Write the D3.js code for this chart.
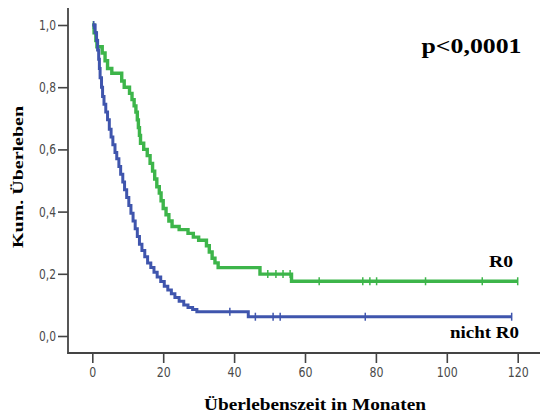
<!DOCTYPE html>
<html>
<head>
<meta charset="utf-8">
<script src="https://cdn.jsdelivr.net/npm/d3@7"></script>
<style>
  body { margin: 0; background: #fff; }
  svg { display: block; }
</style>
</head>
<body>
<div class="plot"></div>
<script>
// Kaplan-Meier: Zeit (Monate) und kum. Ueberleben nach jedem Ereignis
let r0Time = [0, 0.5, 1.0, 1.3, 2.8, 3.6, 4.3, 5.5, 8.3, 9.0, 10.5, 11.2, 11.8, 12.3, 12.7, 13.0, 13.3, 13.6, 14.5, 15.5, 16.3, 17.0, 17.6, 18.2, 18.9, 19.4, 20.0, 20.8, 21.6, 22.5, 24.5, 27.0, 28.5, 30.0, 32.2, 33.0, 33.8, 34.6, 35.5, 47.3, 56.2, 120]
let r0Surv = [1.0, 0.975, 0.95, 0.93, 0.91, 0.885, 0.86, 0.845, 0.82, 0.80, 0.78, 0.76, 0.74, 0.72, 0.695, 0.67, 0.645, 0.62, 0.60, 0.58, 0.555, 0.53, 0.505, 0.48, 0.46, 0.435, 0.41, 0.39, 0.37, 0.352, 0.342, 0.33, 0.318, 0.308, 0.29, 0.27, 0.25, 0.235, 0.22, 0.199, 0.176, 0.176]
let r0Censored = [0.3, 49.5, 51.8, 53.8, 55.8, 64, 76.3, 78.3, 80.2, 94, 110, 120]

let nichtR0Time = [0, 0.8, 1.2, 1.5, 1.8, 2.0, 2.2, 2.6, 2.9, 3.3, 3.8, 4.3, 4.8, 5.3, 5.8, 6.4, 6.9, 7.5, 8.0, 8.6, 9.1, 9.7, 10.3, 10.9, 11.5, 12.1, 12.7, 13.3, 14.0, 14.8, 15.6, 16.5, 17.4, 18.3, 19.3, 20.3, 21.3, 22.3, 23.3, 24.5, 25.8, 27.0, 28.3, 29.5, 44.0, 118.3]
let nichtR0Surv = [1.0, 0.975, 0.95, 0.92, 0.89, 0.86, 0.83, 0.80, 0.77, 0.745, 0.72, 0.695, 0.665, 0.64, 0.615, 0.59, 0.57, 0.545, 0.52, 0.495, 0.47, 0.445, 0.42, 0.395, 0.37, 0.345, 0.32, 0.295, 0.275, 0.255, 0.235, 0.22, 0.205, 0.19, 0.175, 0.16, 0.148, 0.136, 0.124, 0.112, 0.10, 0.092, 0.085, 0.078, 0.062, 0.062]
let nichtR0Censored = [0.4, 38.8, 46, 51, 53, 77, 118.3]

let xTicks = [0, 20, 40, 60, 80, 100, 120]
let yTicks = [0, 0.2, 0.4, 0.6, 0.8, 1.0]

let groups = [
  {name: "R0", time: r0Time, surv: r0Surv, cens: r0Censored, color: "#3db54a", lw: 3.4},
  {name: "nicht R0", time: nichtR0Time, surv: nichtR0Surv, cens: nichtR0Censored, color: "#3f55ad", lw: 3}
]

let width = 540, height = 416
let svg = d3.select(".plot").append("svg")
    .attr("width", width)
    .attr("height", height)

let x = d3.scaleLinear().domain([0, 120]).range([92.3, 517.7])
let y = d3.scaleLinear().domain([0, 1]).range([336, 25])

let tickFont = "'Liberation Sans Narrow', 'DejaVu Sans Condensed', 'Liberation Sans', sans-serif"
let serif = "'Liberation Serif', 'DejaVu Serif', serif"

// schmale Tick-Schrift nachbilden
function narrow(sel){
  sel.attr("font-family", tickFont).attr("font-size", 14).attr("fill", "#4a4a4a")
    .attr("lengthAdjust", "spacingAndGlyphs")
    .attr("textLength", function(){
      let s = d3.select(this).text()
      let digits = s.replace(/[^0-9]/g, "").length
      return digits * 7 + (s.length - digits) * 3
    })
}

// x axis
let xAxis = svg.append("g")
    .attr("transform", "translate(0,353)")
    .call(d3.axisBottom(x).tickValues(xTicks).tickSize(10).tickPadding(4).tickFormat(d3.format("d")))
xAxis.select(".domain").remove()
xAxis.selectAll("line").attr("stroke", "#444").attr("stroke-width", 1.6)
xAxis.selectAll("text").call(narrow)
svg.append("line").attr("x1", 67.5).attr("x2", 540).attr("y1", 353).attr("y2", 353)
    .attr("stroke", "#444").attr("stroke-width", 1.8)

// y axis
let yAxis = svg.append("g")
    .attr("transform", "translate(68,0)")
    .call(d3.axisLeft(y).tickValues(yTicks).tickSize(10).tickPadding(2)
      .tickFormat(d => d3.format(".1f")(d).replace(".", ",")))
yAxis.select(".domain").remove()
yAxis.selectAll("line").attr("stroke", "#444").attr("stroke-width", 1.6)
yAxis.selectAll("text").call(narrow)
svg.append("line").attr("x1", 68).attr("x2", 68).attr("y1", 8).attr("y2", 353.9)
    .attr("stroke", "#444").attr("stroke-width", 1.8)

// curves
let line = d3.line()
    .x(d => x(d[0]))
    .y(d => y(d[1]))
    .curve(d3.curveStepAfter)

let bis = d3.bisector(d => d).right
groups.forEach(function(g){
  let pts = g.time.map((t, i) => [t, g.surv[i]])
  svg.append("path")
    .datum(pts)
    .attr("fill", "none")
    .attr("stroke", g.color)
    .attr("stroke-width", g.lw)
    .attr("d", line)
  // censored marks
  svg.selectAll(null)
    .data(g.cens)
    .enter().append("line")
    .attr("x1", d => x(d)).attr("x2", d => x(d))
    .attr("y1", d => y(g.surv[Math.max(0, bis(g.time, d) - 1)]) - 4)
    .attr("y2", d => y(g.surv[Math.max(0, bis(g.time, d) - 1)]) + 4)
    .attr("stroke", g.color)
    .attr("stroke-width", 1.5)
})

// labels
svg.append("text")
    .attr("x", 421.5).attr("y", 53)
    .attr("font-family", serif).attr("font-weight", "bold").attr("font-size", 22)
    .attr("textLength", 100).attr("lengthAdjust", "spacingAndGlyphs")
    .text("p<0,0001")

svg.append("text")
    .attr("x", 489).attr("y", 266.5)
    .attr("font-family", serif).attr("font-weight", "bold").attr("font-size", 17)
    .attr("textLength", 24).attr("lengthAdjust", "spacingAndGlyphs")
    .text("R0")

svg.append("text")
    .attr("x", 450).attr("y", 338)
    .attr("font-family", serif).attr("font-weight", "bold").attr("font-size", 17)
    .attr("textLength", 69).attr("lengthAdjust", "spacingAndGlyphs")
    .text("nicht R0")

svg.append("text")
    .attr("x", 315).attr("y", 410)
    .attr("text-anchor", "middle")
    .attr("font-family", serif).attr("font-weight", "bold").attr("font-size", 16)
    .attr("textLength", 222).attr("lengthAdjust", "spacingAndGlyphs")
    .text("Überlebenszeit in Monaten")

svg.append("text")
    .attr("transform", "translate(23,177) rotate(-90)")
    .attr("text-anchor", "middle")
    .attr("font-family", serif).attr("font-weight", "bold").attr("font-size", 15)
    .attr("textLength", 142).attr("lengthAdjust", "spacingAndGlyphs")
    .text("Kum. Überleben")
</script>
</body>
</html>
